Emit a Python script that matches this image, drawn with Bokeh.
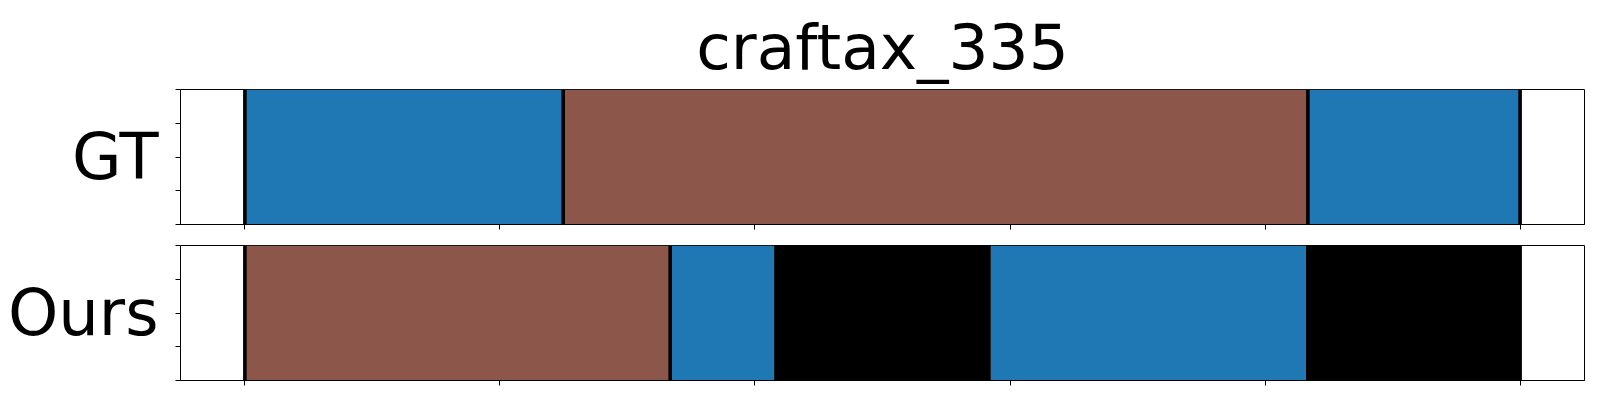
from bokeh.plotting import figure
from bokeh.layouts import column
from bokeh.models import Range1d, FixedTicker, ColumnDataSource
from bokeh.embed import file_html
from bokeh.resources import INLINE

title_text = "craftax_335"
row_labels = ["GT", "Ours"]

# segments (frame units, full length 100)
gt_starts = [0, 24.96, 83.36]
gt_ends = [24.96, 83.36, 100]
gt_colors = ["#1f77b4", "#8c564b", "#1f77b4"]
gt_bounds = [0, 24.96, 83.36, 100]

ours_starts = [0, 33.35, 41.5, 58.5, 83.2]
ours_ends = [33.35, 41.5, 58.5, 83.2, 100]
ours_colors = ["#8c564b", "#1f77b4", "#000000", "#1f77b4", "#000000"]
ours_bounds = [0, 33.35, 100]

x_ticks = [0, 20, 40, 60, 80, 100]
y_ticks = [0, 0.25, 0.5, 0.75, 1.0]

FONT = "DejaVu Sans"
X0, X1 = -5.05, 105.05


def make_fig(label, starts, ends, colors, bounds, title=None, top=10, bottom=10):
    kw = {}
    if title:
        kw["title"] = title
    p = figure(frame_width=1404, frame_height=135, output_backend="svg",
               toolbar_location=None, x_range=Range1d(X0, X1),
               y_range=Range1d(0, 1), min_border_left=180, min_border_right=6,
               min_border_top=top, min_border_bottom=bottom, **kw)
    p.grid.visible = False
    p.outline_line_color = "black"
    p.outline_line_width = 1
    src = ColumnDataSource(dict(left=starts, right=ends, color=colors))
    p.quad(left="left", right="right", bottom=0, top=1, fill_color="color",
           line_color=None, source=src)
    bsrc = ColumnDataSource(dict(x=bounds))
    p.segment(x0="x", y0=0, x1="x", y1=1, line_color="black", line_width=3.6,
              source=bsrc)
    for ax in (p.xaxis[0], p.yaxis[0]):
        ax.major_label_text_font_size = "1px"
        ax.major_label_standoff = 0
        ax.major_tick_out = 5
        ax.major_tick_in = 0
        ax.minor_tick_line_color = None
        ax.axis_line_color = "black"
        ax.major_tick_line_color = "black"
    p.xaxis.ticker = FixedTicker(ticks=x_ticks)
    p.yaxis.ticker = FixedTicker(ticks=y_ticks)
    p.xaxis.major_label_overrides = {t: "" for t in x_ticks}
    p.yaxis.major_label_overrides = {t: "" for t in y_ticks}
    p.yaxis.axis_label = label
    p.yaxis.axis_label_text_font = FONT
    p.yaxis.axis_label_text_font_size = "64px"
    p.yaxis.axis_label_text_font_style = "normal"
    p.yaxis.axis_label_text_color = "black"
    p.yaxis.axis_label_standoff = 17
    p.yaxis.axis_label_orientation = "horizontal"
    if title:
        p.title.text_font = FONT
        p.title.text_font_size = "63px"
        p.title.text_font_style = "normal"
        p.title.align = "center"
        p.title.text_color = "black"
        p.title.standoff = 12
    return p


p1 = make_fig(row_labels[0], gt_starts, gt_ends, gt_colors, gt_bounds,
              title=title_text, top=89, bottom=10)
p2 = make_fig(row_labels[1], ours_starts, ours_ends, ours_colors, ours_bounds,
              top=11, bottom=10)

layout = column(p1, p2, spacing=0)
open("out.html", "w").write(file_html(layout, INLINE))
